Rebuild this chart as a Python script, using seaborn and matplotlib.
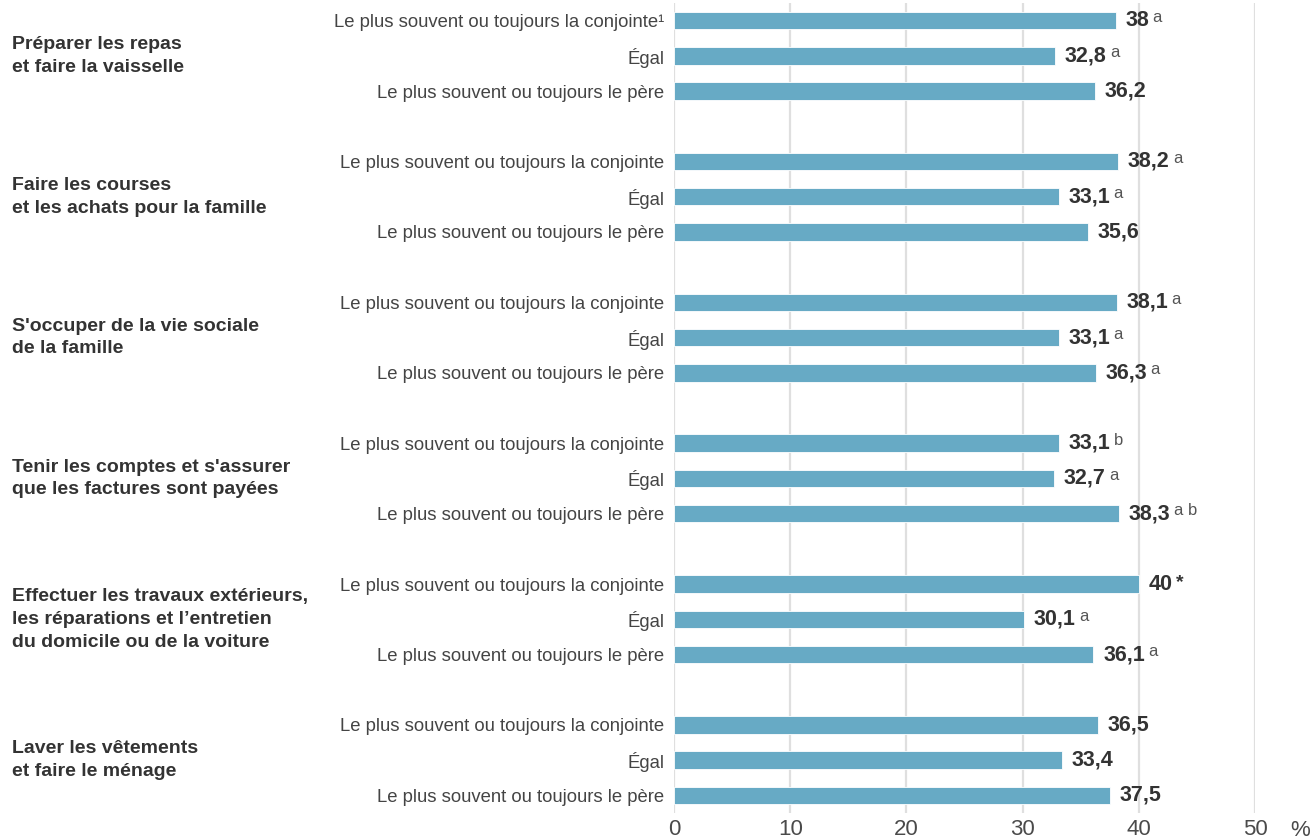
import pandas as pd
import matplotlib.pyplot as plt
import matplotlib.transforms as mtransforms
import seaborn as sns

# Données du graphique
activites = [
    "Préparer les repas\net faire la vaisselle",
    "Faire les courses\net les achats pour la famille",
    "S'occuper de la vie sociale\nde la famille",
    "Tenir les comptes et s'assurer\nque les factures sont payées",
    "Effectuer les travaux extérieurs,\nles réparations et l’entretien\ndu domicile ou de la voiture",
    "Laver les vêtements\net faire le ménage",
]
repartitions = ["Le plus souvent ou toujours la conjointe", "Égal", "Le plus souvent ou toujours le père"]

conjointe = [38, 38.2, 38.1, 33.1, 40, 36.5]
egal = [32.8, 33.1, 33.1, 32.7, 30.1, 33.4]
pere = [36.2, 35.6, 36.3, 38.3, 36.1, 37.5]

exp_conjointe = ["a", "a", "a", "b", "*", ""]
exp_egal = ["a", "a", "a", "a", "a", ""]
exp_pere = ["", "", "a", "a b", "a", ""]

x_ticks = [0, 10, 20, 30, 40, 50]

BLEU = "#67aac5"
GRIS_TEXTE = "#333333"


# Construire le DataFrame (une ligne vide entre chaque activité)
def build_df():
    records = []
    series = [(conjointe, exp_conjointe), (egal, exp_egal), (pere, exp_pere)]
    for i, act in enumerate(activites):
        for k, (vals, exps) in enumerate(series):
            label = repartitions[k]
            if i == 0 and k == 0:
                label += "¹"
            records.append([act, label, i * 4 + k, vals[i], exps[i]])
    return pd.DataFrame(records, columns=["Activite", "Repartition", "Pos", "Valeur", "Exposant"])


df = build_df()

sns.set_style("white")
plt.rcParams["font.family"] = ["Liberation Sans", "DejaVu Sans"]

fig = plt.figure(figsize=(13.11, 8.40), dpi=100)
ax = fig.add_axes([674 / 1311, 1 - 813 / 840, (1255 - 674) / 1311, 810 / 840])

sns.barplot(data=df, x="Valeur", y="Pos", orient="h", native_scale=True,
            color=BLEU, width=0.5, edgecolor="white", linewidth=0.6,
            saturation=1, ax=ax)

ax.set_xlim(0, 50)
ax.set_ylim(22.5, -0.5)
ax.set_xticks(x_ticks)
ax.set_xticklabels([str(t) for t in x_ticks], fontsize=16, color="#4a4a4a")
ax.set_yticks(df["Pos"])
ax.set_yticklabels(df["Repartition"], fontsize=13.3, color="#444444")
ax.tick_params(axis="y", length=0, pad=7)
ax.tick_params(axis="x", length=0, pad=4)
ax.set_xlabel("")
ax.set_ylabel("")
for s in ax.spines.values():
    s.set_visible(False)
ax.xaxis.grid(True, color="#dfdfdf", linewidth=1.6)
ax.yaxis.grid(False)
ax.set_axisbelow(True)

fig.text(1310 / 1311, 1 - 830 / 840, "%", fontsize=16,
         color="#4a4a4a", ha="right", va="center")

# Libellés des activités, centrés sur la barre du milieu
trans = mtransforms.blended_transform_factory(fig.transFigure, ax.transData)
for i, act in enumerate(activites):
    ax.text(12 / 1311, i * 4 + 1, act, transform=trans, ha="left", va="center",
            fontsize=14, fontweight="bold", color=GRIS_TEXTE, linespacing=1.45)

# Valeurs et exposants
fig.canvas.draw()
renderer = fig.canvas.get_renderer()
for _, row in df.iterrows():
    txt = f"{row['Valeur']:g}".replace(".", ",")
    t = ax.annotate(txt, xy=(row["Valeur"], row["Pos"]), xytext=(7, 0),
                    textcoords="offset points", ha="left", va="center",
                    fontsize=15.5, fontweight="bold", color=GRIS_TEXTE)
    if row["Exposant"]:
        bb = t.get_window_extent(renderer)
        gras = row["Exposant"] == "*"
        ax.annotate(row["Exposant"], xy=(bb.x1, bb.y1), xycoords="figure pixels",
                    xytext=(2.5, 0), textcoords="offset points", ha="left", va="top",
                    fontsize=14 if gras else 12,
                    fontweight="bold" if gras else "normal",
                    color=GRIS_TEXTE if gras else "#555555")

fig.savefig("out.png", dpi=100)
